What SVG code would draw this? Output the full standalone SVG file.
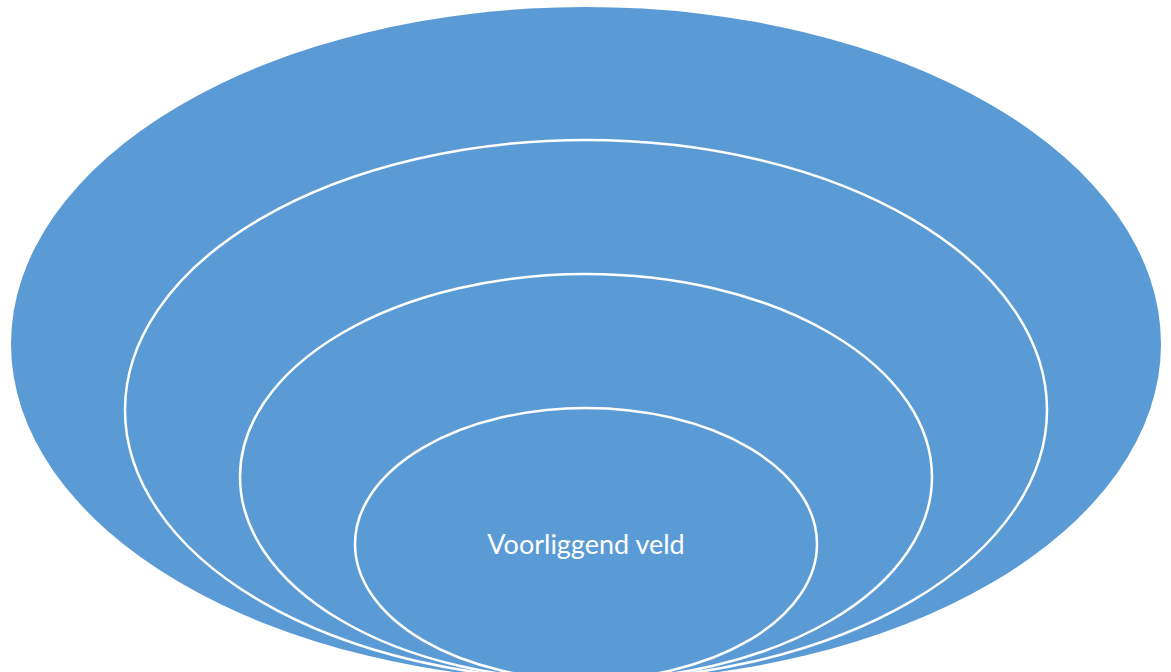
<svg xmlns="http://www.w3.org/2000/svg" width="1171" height="672" viewBox="0 0 1171 672">
<style>
.ring{fill:#5b9bd5;stroke:#ffffff;stroke-width:2.5}
.lbl{font-family:Lato,"Liberation Sans",sans-serif;font-size:27px;fill:#ffffff;text-anchor:middle}
</style>
<rect width="1171" height="672" fill="#ffffff"/>
<g id="outer"><ellipse cx="586" cy="344" rx="575" ry="337" fill="#5b9bd5"/></g>
<g id="ring2"><ellipse class="ring" cx="586" cy="410" rx="461" ry="270"/></g>
<g id="ring3"><ellipse class="ring" cx="586" cy="477" rx="346" ry="203"/></g>
<g id="inner"><ellipse class="ring" cx="586" cy="544" rx="231" ry="136"/>
<text class="lbl" x="586" y="554">Voorliggend veld</text></g>
<g id="connectors"/>
</svg>
